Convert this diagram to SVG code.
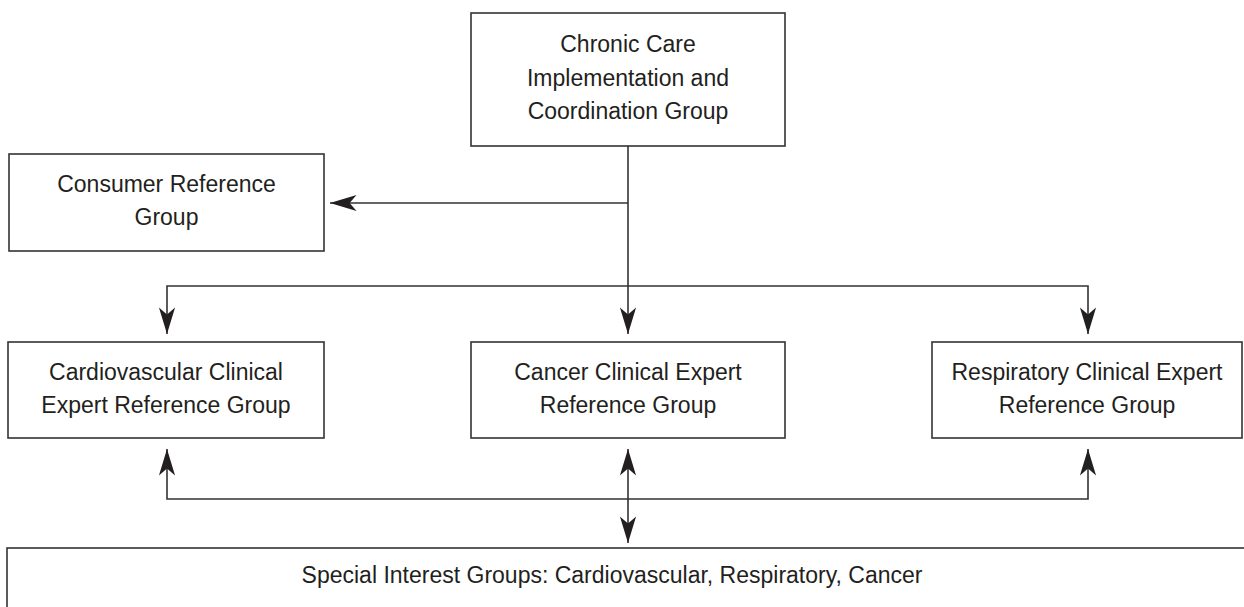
<svg xmlns="http://www.w3.org/2000/svg" width="1244" height="607" viewBox="0 0 1244 607">
<style>
.box{fill:#fff;stroke:#333;stroke-width:1.6}
.t{font-family:"Liberation Sans",Arial,sans-serif;font-size:23px;fill:#231f20;text-anchor:middle}
.c{fill:none;stroke:#333;stroke-width:1.6}
</style>
<defs>
<marker id="ah" markerUnits="userSpaceOnUse" markerWidth="30" markerHeight="20" viewBox="-24 -8 26 16" refX="0" refY="0" orient="auto-start-reverse">
<path d="M0,0 L-23,-7 L-17,0 L-23,7 Z" fill="#231f20"/>
</marker>
</defs>
<rect width="1244" height="607" fill="#fff"/>
<g id="connectors">
<path class="c" d="M628,146 V334" marker-end="url(#ah)"/>
<path class="c" d="M628,203 H330" marker-end="url(#ah)"/>
<path class="c" d="M167,334 V286 H1088 V334" marker-start="url(#ah)" marker-end="url(#ah)"/>
<path class="c" d="M167,449 V499 H1088 V449" marker-start="url(#ah)" marker-end="url(#ah)"/>
<path class="c" d="M628,449 V543" marker-start="url(#ah)" marker-end="url(#ah)"/>
</g>
<g id="chronic-care">
<rect class="box" x="471" y="13" width="314" height="133"/>
<text class="t" x="628" y="52">Chronic Care</text>
<text class="t" x="628" y="86">Implementation and</text>
<text class="t" x="628" y="119">Coordination Group</text>
</g>
<g id="consumer">
<rect class="box" x="9" y="154" width="315" height="97"/>
<text class="t" x="166.5" y="192">Consumer Reference</text>
<text class="t" x="166.5" y="225">Group</text>
</g>
<g id="cardiovascular">
<rect class="box" x="8" y="342" width="316" height="96"/>
<text class="t" x="166" y="380">Cardiovascular Clinical</text>
<text class="t" x="166" y="413">Expert Reference Group</text>
</g>
<g id="cancer">
<rect class="box" x="471" y="342" width="314" height="96"/>
<text class="t" x="628" y="380">Cancer Clinical Expert</text>
<text class="t" x="628" y="413">Reference Group</text>
</g>
<g id="respiratory">
<rect class="box" x="932" y="342" width="310" height="96"/>
<text class="t" x="1087" y="380">Respiratory Clinical Expert</text>
<text class="t" x="1087" y="413">Reference Group</text>
</g>
<g id="special-interest">
<rect class="box" x="7" y="548" width="1250" height="80"/>
<text class="t" x="612" y="583">Special Interest Groups: Cardiovascular, Respiratory, Cancer</text>
</g>
</svg>
